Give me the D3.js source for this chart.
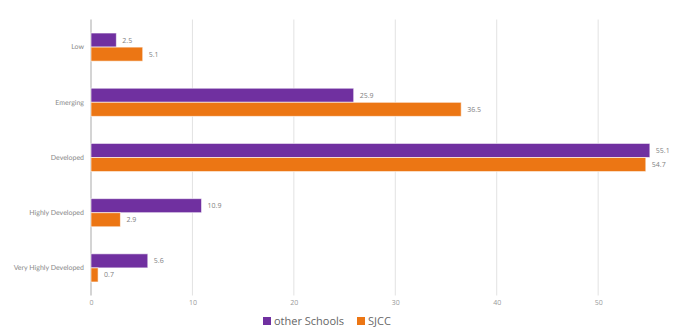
<!DOCTYPE html>
<html>
<head>
<meta charset="utf-8">
<script src="https://cdn.jsdelivr.net/npm/d3@7"></script>
<style>
  html, body { margin: 0; padding: 0; background: #fff; }
  svg { display: block; }
  text { text-rendering: geometricPrecision; }
</style>
</head>
<body>
<svg id="chart" width="675" height="329"></svg>
<script>
// Development levels and the share (%) of students in each, by group
const categories = ["Low", "Emerging", "Developed", "Highly Developed", "Very Highly Developed"];
const seriesNames = ["other Schools", "SJCC"];
const otherSchools = [2.5, 25.9, 55.1, 10.9, 5.6];
const sjcc = [5.1, 36.5, 54.7, 2.9, 0.7];
const tickValues = [0, 10, 20, 30, 40, 50];
const colors = ["#7030a0", "#ec7614"];

const svg = d3.select("#chart");
const plot = { left: 91, right: 659, top: 19.5, bottom: 295.5 };

const x = d3.scaleLinear().domain([0, 56]).range([plot.left, plot.right]);
const y = d3.scaleBand().domain(categories).range([plot.top, plot.bottom])
  .paddingInner(0.49).paddingOuter(0.245);
const ySub = d3.scaleBand().domain(seriesNames).range([0, y.bandwidth()]);

// vertical gridlines
svg.append("g").selectAll("line")
  .data(tickValues)
  .join("line")
  .attr("x1", d => x(d)).attr("x2", d => x(d))
  .attr("y1", plot.top).attr("y2", plot.bottom)
  .attr("stroke", d => d === 0 ? "#d4d4d4" : "#e2e2e2")
  .attr("stroke-width", d => d === 0 ? 2 : 1);

// x tick labels
const xAxis = d3.axisBottom(x).tickValues(tickValues).tickSize(0).tickPadding(0);
const gx = svg.append("g").attr("transform", `translate(0,${plot.bottom + 5})`).call(xAxis);
gx.select(".domain").remove();
gx.selectAll("text")
  .attr("dy", "0.71em")
  .attr("fill", "#999")
  .style("font-family", "'Open Sans', sans-serif")
  .style("font-size", "7px");

// category labels
const yAxis = d3.axisLeft(y).tickSize(0).tickPadding(7);
const gy = svg.append("g").attr("transform", `translate(${plot.left},0)`).call(yAxis);
gy.select(".domain").remove();
gy.selectAll("text")
  .attr("fill", "#8a8a8a")
  .style("font-family", "Lato, 'Open Sans', sans-serif")
  .style("font-size", "7px");

// bars
const rows = categories.map((c, i) => ({ cat: c, values: [otherSchools[i], sjcc[i]] }));
const groups = svg.append("g").selectAll("g")
  .data(rows)
  .join("g")
  .attr("transform", d => `translate(0,${y(d.cat)})`);

groups.selectAll("rect")
  .data(d => d.values.map((v, j) => ({ v, s: seriesNames[j], j })))
  .join("rect")
  .attr("x", x(0))
  .attr("y", d => ySub(d.s))
  .attr("width", d => x(d.v) - x(0))
  .attr("height", ySub.bandwidth())
  .attr("fill", d => colors[d.j])
  .attr("stroke", "rgba(255,255,255,0.6)")
  .attr("stroke-width", 1);

groups.selectAll("text")
  .data(d => d.values.map((v, j) => ({ v, s: seriesNames[j], j })))
  .join("text")
  .attr("x", d => x(d.v) + 6)
  .attr("y", d => ySub(d.s) + ySub.bandwidth() / 2)
  .attr("dy", "0.35em")
  .attr("fill", "#808080")
  .style("font-family", "'Open Sans', sans-serif")
  .style("font-size", "7px")
  .text(d => d.v);

// legend
const legend = svg.append("g").attr("transform", "translate(0,321)");
const legendItems = [
  { name: seriesNames[0], color: colors[0], x: 263 },
  { name: seriesNames[1], color: colors[1], x: 357 }
];
legendItems.forEach(it => {
  legend.append("rect")
    .attr("x", it.x).attr("y", -4)
    .attr("width", 8).attr("height", 8)
    .attr("fill", it.color);
  legend.append("text")
    .attr("x", it.x + 11).attr("y", 0)
    .attr("dy", "0.35em")
    .attr("fill", "#666")
    .style("font-family", "'Open Sans', sans-serif")
    .style("font-size", "11px")
    .text(it.name);
});
</script>
</body>
</html>
